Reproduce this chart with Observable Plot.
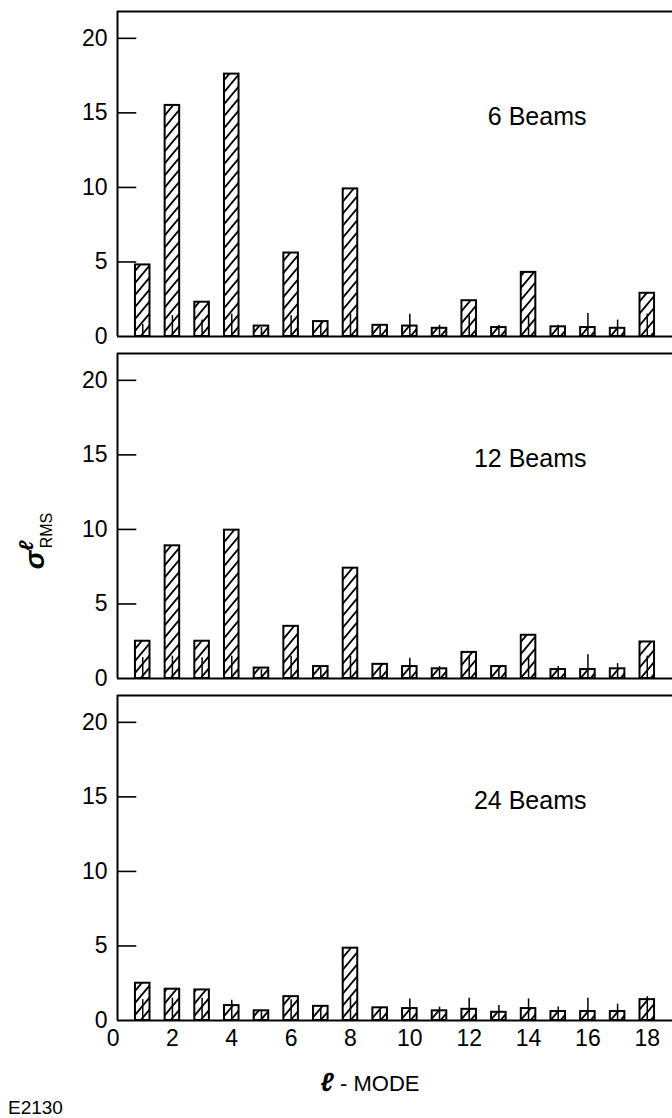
<!DOCTYPE html>
<html><head><meta charset="utf-8">
<script src="https://cdn.jsdelivr.net/npm/d3@7"></script>
<script src="https://cdn.jsdelivr.net/npm/@observablehq/plot@0.6"></script>
<style>
body{margin:0;background:#fff}
#chart{position:relative;width:672px;height:1118px;overflow:hidden}
</style>
</head><body>
<svg width="0" height="0" style="position:absolute">
<defs><pattern id="hatch" patternUnits="userSpaceOnUse" width="10" height="12">
<rect width="10" height="12" fill="white"/>
<path d="M-2,14.4L12,-2.4M-2,2.4L2,-2.4M8,14.4L12,9.6" stroke="black" stroke-width="1.8"/>
</pattern></defs></svg>
<div id="chart"></div>
<script>
const panels = ["6 Beams", "12 Beams", "24 Beams"];
const modes = [1,2,3,4,5,6,7,8,9,10,11,12,13,14,15,16,17,18];
const beams6  = [4.8, 15.5, 2.3, 17.6, 0.7, 5.6, 1.0, 9.9, 0.75, 0.7, 0.55, 2.4, 0.6, 4.3, 0.65, 0.6, 0.55, 2.9];
const beams12 = [2.5, 8.9, 2.5, 9.95, 0.7, 3.5, 0.8, 7.4, 0.95, 0.8, 0.65, 1.75, 0.8, 2.9, 0.6, 0.6, 0.65, 2.45];
const beams24 = [2.5, 2.1, 2.05, 1.0, 0.65, 1.6, 0.95, 4.85, 0.85, 0.8, 0.65, 0.75, 0.55, 0.8, 0.6, 0.6, 0.6, 1.4];
const inner6  = [0.8, 1.4, 1.1, 1.5, 0.6, 1.4, 0.9, 1.5, 0.7, 1.5, 0.75, 1.4, 0.75, 1.4, 0.75, 1.55, 1.1, 1.5];
const inner12 = [1.4, 1.5, 1.4, 1.5, 0.6, 1.5, 0.7, 1.5, 0.8, 1.35, 0.8, 1.5, 0.8, 1.5, 0.8, 1.6, 1.0, 1.5];
const inner24 = [1.4, 1.5, 1.5, 1.35, 0.6, 1.4, 0.8, 1.5, 0.7, 1.45, 0.9, 1.5, 1.0, 1.45, 0.9, 1.5, 1.1, 1.6];
const xTicks = [0,2,4,6,8,10,12,14,16,18];
const yTicks = [0,5,10,15,20];
const xDomain = [0.15, 18.85];
const yDomain = [0, 21.8];

const series = [beams6, beams12, beams24];
const inners = [inner6, inner12, inner24];
const bars = [];
panels.forEach((p, i) => modes.forEach((l, j) => bars.push({panel: p, l, v: series[i][j], inner: inners[i][j]})));
const labels = panels.map(p => ({panel: p}));
const halfW = 0.245;
const ff = "'Liberation Sans', Arial, sans-serif";

const chart = Plot.plot({
  width: 672, height: 1118,
  marginTop: 10, marginBottom: 98, marginLeft: 117, marginRight: 0,
  style: {fontFamily: ff, fontSize: "23px", color: "black", background: "white"},
  x: {domain: xDomain, ticks: xTicks, tickSize: 0, tickPadding: 9, label: null},
  y: {domain: yDomain, ticks: yTicks, tickSize: 0, tickPadding: 10, label: null},
  fy: {domain: panels, axis: null, paddingInner: 0.05, paddingOuter: 0},
  marks: [
    Plot.ruleX([xDomain[0]], {stroke: "black", strokeWidth: 2}),
    Plot.ruleY([yDomain[0], yDomain[1]], {stroke: "black", strokeWidth: 2}),
    Plot.ruleY(yTicks.filter(t => t > 0), {x1: xDomain[0], x2: xDomain[0] + 0.65, stroke: "black", strokeWidth: 1.6}),
    Plot.rectY(bars, {fy: "panel", x1: d => d.l - halfW, x2: d => d.l + halfW, y1: 0, y2: "v", fill: "url(#hatch)", stroke: "black", strokeWidth: 2}),
    Plot.ruleX(bars, {fy: "panel", x: "l", y1: 0, y2: "inner", stroke: "black", strokeWidth: 1.5}),
    Plot.text(labels, {fy: "panel", text: "panel", frameAnchor: "top-right", textAnchor: "end", lineAnchor: "middle", dx: -86, dy: 105, fontSize: 25, fill: "black", style: "letter-spacing:0.6px"})
  ]
});
document.getElementById("chart").appendChild(chart);

const svg = d3.select(chart);
const yl = svg.append("text").attr("transform", "translate(44,541) rotate(-90)")
  .attr("text-anchor", "middle").attr("font-family", ff).attr("fill", "black");
yl.append("tspan").text("σ").attr("font-style", "italic").attr("font-weight", "bold").attr("font-size", 28);
yl.append("tspan").text("ℓ").attr("dy", -11).attr("font-size", 20).attr("font-weight", "bold").attr("font-style", "italic");
yl.append("tspan").text("RMS").attr("dx", -8).attr("dy", 19).attr("font-size", 16);

const xl = svg.append("text").attr("x", 370).attr("y", 1091).attr("text-anchor", "middle")
  .attr("font-family", ff).attr("fill", "black");
xl.append("tspan").text("ℓ").attr("font-weight", "bold").attr("font-style", "italic").attr("font-size", 26);
xl.append("tspan").text(" - MODE").attr("font-size", 22);

svg.append("text").attr("x", 8).attr("y", 1114).attr("text-anchor", "start").attr("font-family", ff)
  .attr("font-size", 19).attr("fill", "black").text("E2130");
</script>
</body></html>
